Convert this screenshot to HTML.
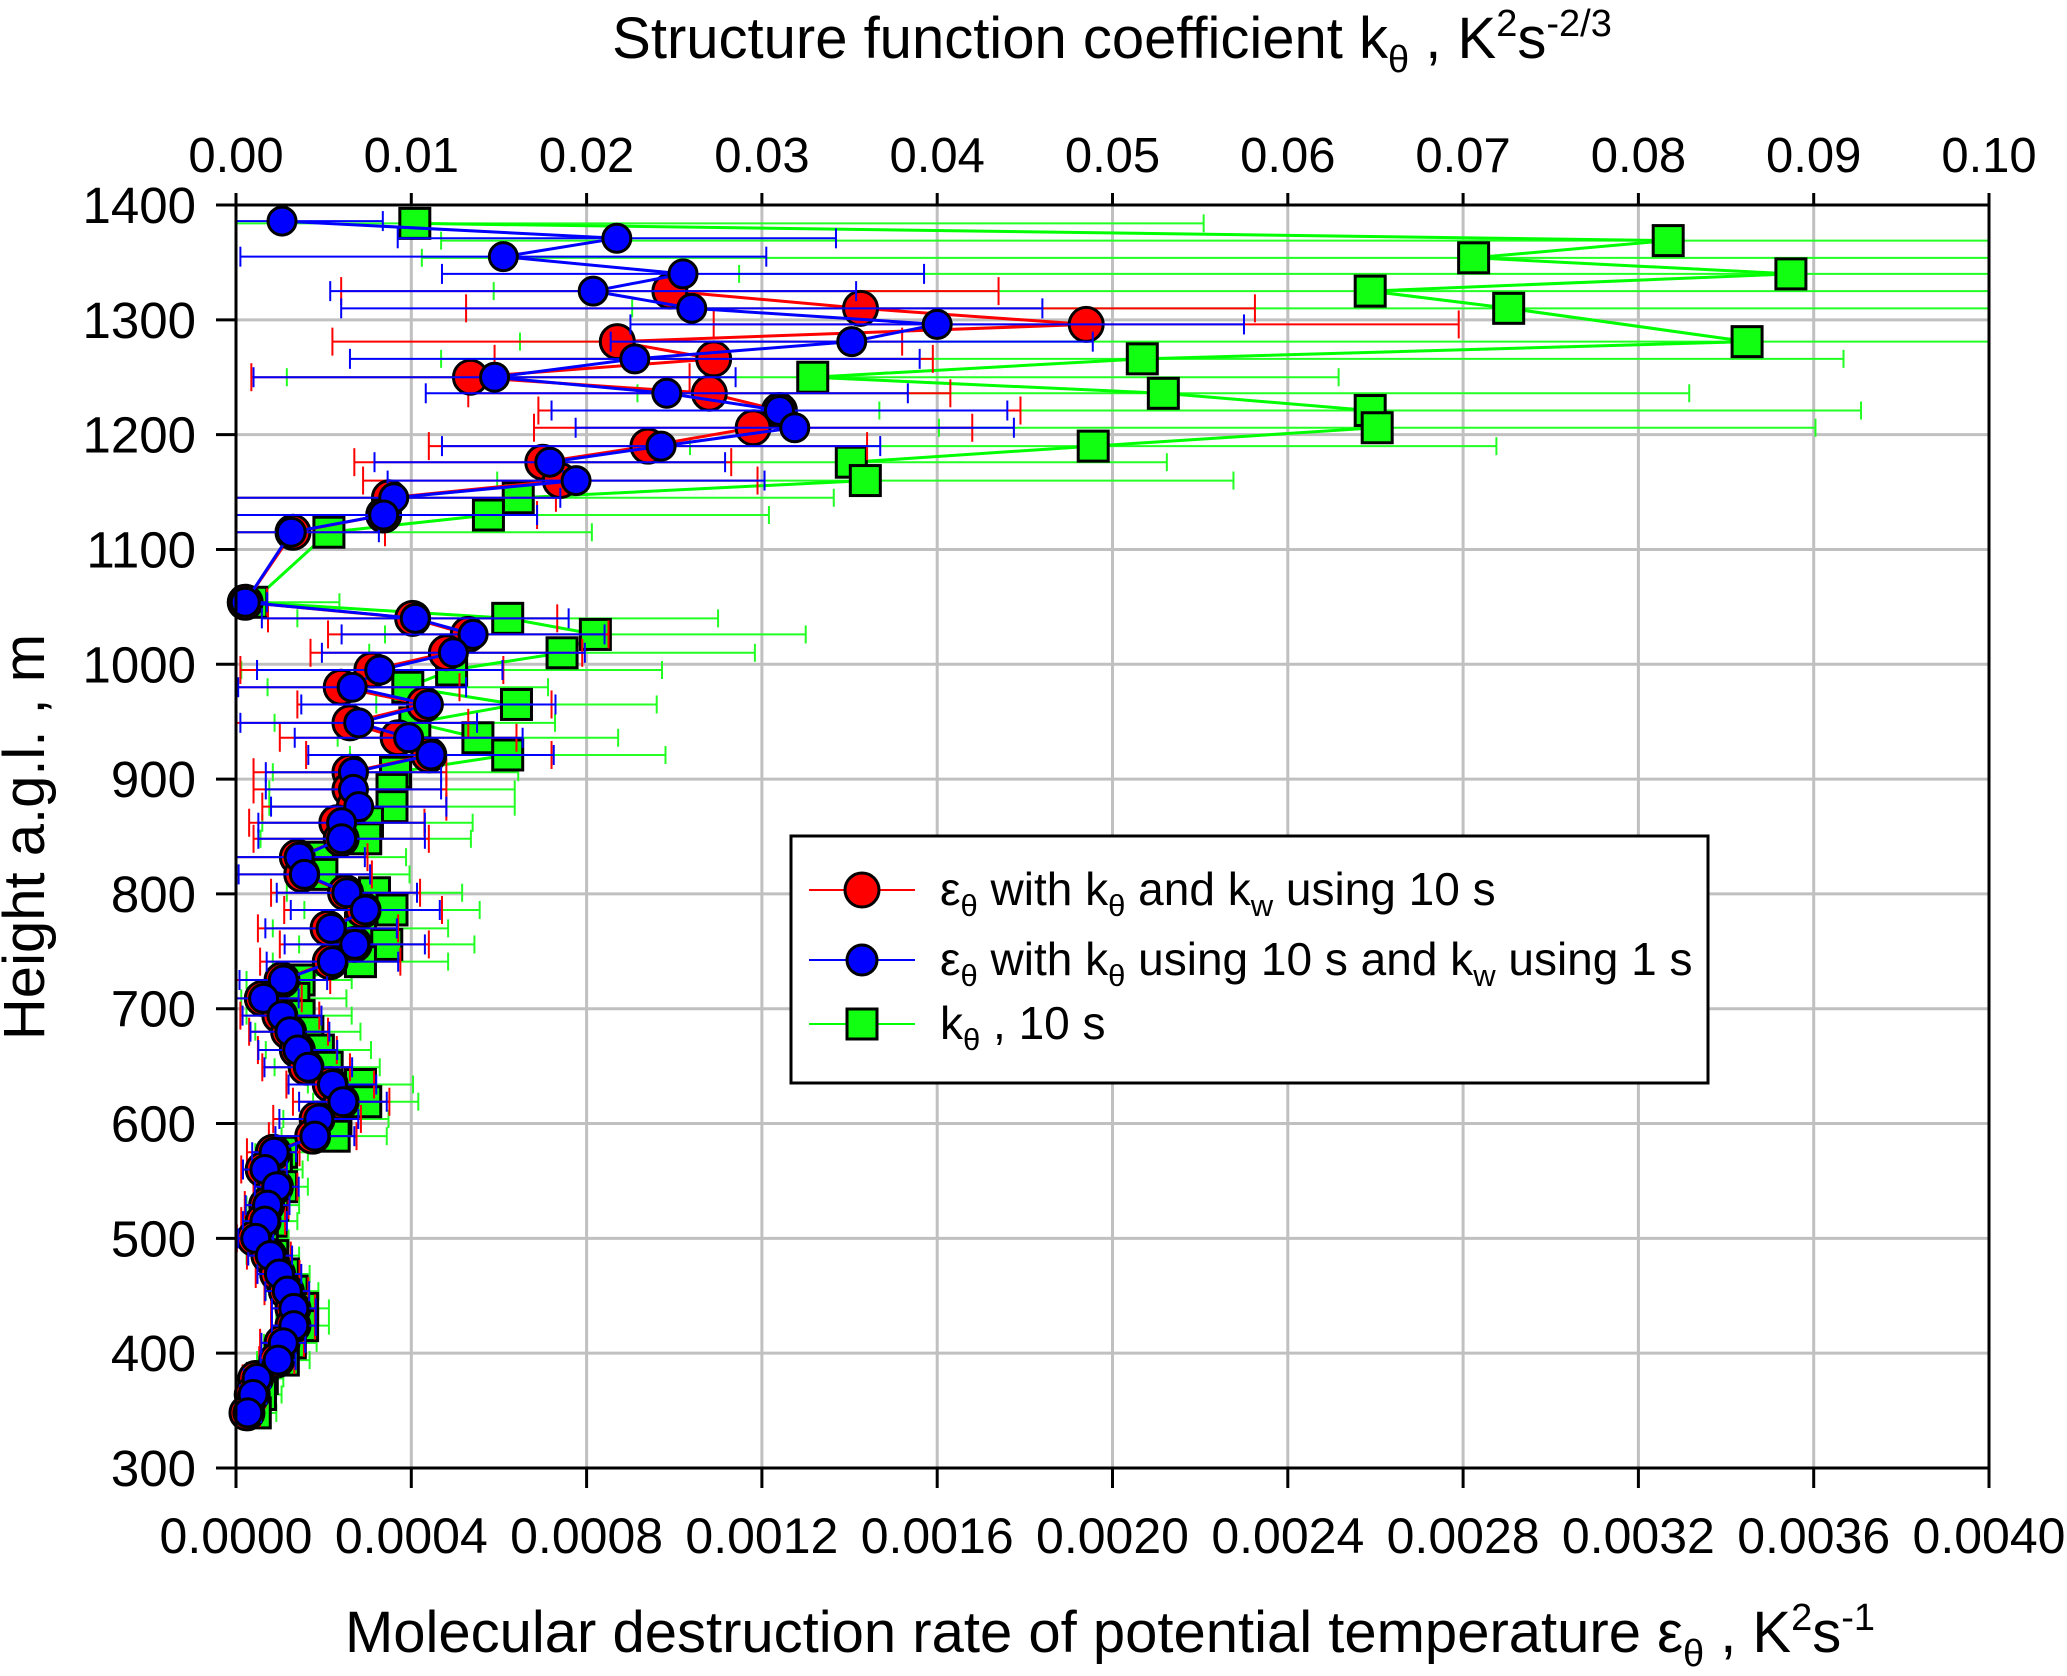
<!DOCTYPE html>
<html><head><meta charset="utf-8"><style>
html,body{margin:0;padding:0;background:#fff;}
svg{display:block;font-family:"Liberation Sans",sans-serif;}
</style></head><body>
<svg id="chart" width="2067" height="1676" viewBox="0 0 2067 1676" xmlns="http://www.w3.org/2000/svg">
<rect width="2067" height="1676" fill="#fff"/>
<g id="grid"></g>
<g id="series"></g>
<g id="axes"></g>
<text x="1112" y="58" font-size="58" text-anchor="middle">Structure function coefficient k<tspan font-size="38" dy="14">θ</tspan><tspan dy="-14"> , K</tspan><tspan font-size="38" dy="-22">2</tspan><tspan dy="22">s</tspan><tspan font-size="38" dy="-22">-2/3</tspan></text>
<text x="1110" y="1652" font-size="58" text-anchor="middle">Molecular destruction rate of potential temperature ε<tspan font-size="38" dy="14">θ</tspan><tspan dy="-14"> , K</tspan><tspan font-size="38" dy="-22">2</tspan><tspan dy="22">s</tspan><tspan font-size="38" dy="-22">-1</tspan></text>
<text transform="translate(44,837) rotate(-90)" font-size="58" text-anchor="middle">Height a.g.l. , m</text>
<g>
<rect x="791" y="836" width="917" height="247" fill="#fff" stroke="#000" stroke-width="3"/>
<g>
<line x1="809" y1="890" x2="915" y2="890" stroke="#f00" stroke-width="2"/>
<circle cx="862" cy="890" r="17" fill="#f00" stroke="#000" stroke-width="3"/>
<text x="940" y="905" font-size="46">ε<tspan font-size="31" dy="11">θ</tspan><tspan dy="-11"> with k</tspan><tspan font-size="31" dy="11">θ</tspan><tspan dy="-11"> and k</tspan><tspan font-size="31" dy="11">w</tspan><tspan dy="-11"> using 10 s</tspan></text>
</g>
<g>
<line x1="809" y1="960" x2="915" y2="960" stroke="#00f" stroke-width="2"/>
<circle cx="862" cy="960" r="15" fill="#00f" stroke="#000" stroke-width="3"/>
<text x="940" y="975" font-size="46">ε<tspan font-size="31" dy="11">θ</tspan><tspan dy="-11"> with k</tspan><tspan font-size="31" dy="11">θ</tspan><tspan dy="-11"> using 10 s and k</tspan><tspan font-size="31" dy="11">w</tspan><tspan dy="-11"> using 1 s</tspan></text>
</g>
<g>
<line x1="809" y1="1024" x2="915" y2="1024" stroke="#0f0" stroke-width="2"/>
<rect x="847" y="1009" width="30" height="30" fill="#1f1" stroke="#000" stroke-width="3"/>
<text x="940" y="1039" font-size="46">k<tspan font-size="31" dy="11">θ</tspan><tspan dy="-11"> , 10 s</tspan></text>
</g>
</g>
</svg>
<script>
// axis data
const yTicks=[300,400,500,600,700,800,900,1000,1100,1200,1300,1400];
const bottomTicks=["0.0000","0.0004","0.0008","0.0012","0.0016","0.0020","0.0024","0.0028","0.0032","0.0036","0.0040"];
const topTicks=["0.00","0.01","0.02","0.03","0.04","0.05","0.06","0.07","0.08","0.09","0.10"];
// blue series: eps (1e-4 K2/s)
const blueH=[1386,1371,1355,1340,1325,1310,1296,1281,1266,1250,1236,1221,1206,1190,1176,1160,1145,1130,1115,1054,1040,1026,1010,995,980,965,949,936,921,906,891,876,862,848,832,817,801,786,770,756,741,725,709,694,680,664,649,634,619,604,589,575,560,545,529,515,500,485,469,454,439,424,409,394,378,364,348];
const blueV=[1.05,8.69,6.1,10.2,8.15,10.4,16.0,14.05,9.1,5.9,9.83,12.4,12.75,9.7,7.16,7.76,3.6,3.37,1.26,0.21,4.09,5.41,4.96,3.28,2.65,4.39,2.8,3.94,4.45,2.68,2.68,2.8,2.41,2.41,1.44,1.56,2.53,2.95,2.17,2.71,2.2,1.08,0.63,1.05,1.23,1.41,1.65,2.2,2.44,1.89,1.8,0.87,0.66,0.93,0.72,0.66,0.45,0.78,0.99,1.17,1.32,1.32,1.08,0.96,0.48,0.39,0.27];
const blueE=[2.3,5,6,5.5,6,8,7,5.5,6.5,5.5,5.5,5.2,5,5,4,4.3,3.8,3.5,2,0.5,3.5,3,3,2.8,2.6,2.9,2.7,2.6,2.8,2,2,2,1.9,1.9,1.5,1.5,1.6,1.7,1.5,1.6,1.5,1,0.8,0.9,0.9,0.9,1,1,1,0.9,0.9,0.5,0.5,0.5,0.5,0.5,0.4,0.5,0.5,0.5,0.5,0.5,0.5,0.4,0.3,0.3,0.3];
// red series: eps (1e-4 K2/s)
const redH=[1325,1310,1296,1281,1266,1250,1236,1221,1206,1190,1176,1160,1145,1130,1115,1054,1040,1026,1010,995,980,965,949,936,921,906,891,876,862,848,832,817,801,786,770,756,741,725,709,694,680,664,649,634,619,604,589,575,560,545,529,515,500,485,469,454,439,424,409,394,378,364,348];
const redV=[9.9,14.25,19.4,8.7,10.9,5.35,10.8,12.4,11.8,9.4,7.0,7.4,3.5,3.37,1.3,0.21,4.03,5.3,4.8,3.1,2.4,4.3,2.6,3.7,4.4,2.6,2.6,2.7,2.3,2.4,1.4,1.5,2.5,2.9,2.1,2.7,2.15,1.05,0.6,1.0,1.2,1.4,1.6,2.15,2.4,1.85,1.75,0.85,0.62,0.9,0.7,0.62,0.42,0.75,0.95,1.15,1.3,1.3,1.05,0.93,0.45,0.37,0.25];
const redE=[7.5,9,8.5,6.5,5,5,5.5,5.5,5,5,4.3,4.5,3.8,3.5,2.1,0.5,3.3,3.2,3.1,3,2.7,2.9,2.7,2.7,2.8,2.2,2.2,2.1,2,2,1.6,1.6,1.7,1.8,1.6,1.7,1.6,1.1,0.9,0.9,0.9,0.9,1,1,1.1,1,1,0.6,0.5,0.5,0.5,0.5,0.4,0.5,0.5,0.5,0.5,0.5,0.5,0.4,0.3,0.3,0.3];
// green series: k (0.01 K2 s^-2/3)
const greenH=[1384,1369,1354,1340,1325,1310,1281,1266,1250,1236,1221,1206,1190,1176,1160,1145,1130,1115,1054,1040,1026,1010,995,980,965,949,936,921,906,891,876,862,848,832,817,801,786,770,756,741,725,709,694,680,664,649,634,619,604,589,575,560,545,529,515,500,485,469,454,439,424,409,394,378,364,348];
const greenV=[1.02,8.17,7.06,8.87,6.47,7.26,8.62,5.17,3.29,5.29,6.47,6.51,4.89,3.51,3.59,1.61,1.44,0.53,0.09,1.55,2.05,1.86,1.23,0.98,1.6,1.02,1.38,1.55,0.91,0.89,0.89,0.75,0.74,0.47,0.49,0.79,0.89,0.71,0.86,0.71,0.36,0.33,0.36,0.41,0.47,0.52,0.71,0.74,0.57,0.56,0.26,0.23,0.26,0.21,0.2,0.15,0.21,0.27,0.32,0.38,0.38,0.31,0.27,0.15,0.14,0.11];
const greenE=[4.5,7,6,6,5,5,7,4,3,3,2.8,2.5,2.3,1.8,2.1,1.8,1.6,1.5,0.5,1.2,1.2,1.1,1.2,0.8,0.8,0.8,0.8,0.9,0.7,0.7,0.7,0.6,0.6,0.5,0.5,0.5,0.5,0.5,0.5,0.5,0.3,0.3,0.3,0.3,0.3,0.3,0.3,0.3,0.3,0.3,0.15,0.15,0.15,0.15,0.15,0.15,0.15,0.15,0.15,0.15,0.15,0.15,0.15,0.12,0.12,0.12];

const NS="http://www.w3.org/2000/svg";
const L=236,R=1989,T=205,B=1468;
const yS=h=>B-(h-300)/1100*(B-T);
const xEps=v=>L+v/40*(R-L);
const xK=v=>L+v/10*(R-L);
const clampX=x=>Math.max(L,Math.min(R,x));
function el(tag,attrs,parent){const e=document.createElementNS(NS,tag);for(const k in attrs)e.setAttribute(k,attrs[k]);parent.appendChild(e);return e;}
const grid=document.getElementById('grid'),axes=document.getElementById('axes'),ser=document.getElementById('series');

bottomTicks.forEach((t,i)=>{const x=L+i/10*(R-L);
  if(i>0&&i<10){const g=el('line',{x1:x,y1:T,x2:x,y2:B,stroke:'#c0c0c0','stroke-width':3},grid);
  
  }
  const tk=el('line',{x1:x,y1:B,x2:x,y2:B+20,stroke:'#000','stroke-width':3},axes);
  
  
  const tb=el('text',{x:x,y:1553,'font-size':50,'text-anchor':'middle'},axes);tb.textContent=t;
  
  
  const tt=el('line',{x1:x,y1:T,x2:x,y2:T-12,stroke:'#000','stroke-width':3},axes);
  
  
  const tl=el('text',{x:x,y:172,'font-size':49,'text-anchor':'middle'},axes);tl.textContent=topTicks[i];
  
  
});
yTicks.forEach(h=>{const y=yS(h);
  if(h>300&&h<1400){const g=el('line',{x1:L,y1:y,x2:R,y2:y,stroke:'#c0c0c0','stroke-width':3},grid);
  
  }
  const tk=el('line',{x1:L-20,y1:y,x2:L,y2:y,stroke:'#000','stroke-width':3},axes);
  
  
  const t=el('text',{x:196,y:y+18,'font-size':51,'text-anchor':'end'},axes);t.textContent=h;
  
  
});
const frame=el('rect',{x:L,y:T,width:R-L,height:B-T,fill:'none',stroke:'#000','stroke-width':3},axes);



function drawSeries(name,H,V,E,xf,col,errCol,marker,capH){
  const g=el('g',{},ser);
  
  
  H.forEach((h,i)=>{const y=yS(h);const x1=xf(V[i]-E[i]),x2=xf(V[i]+E[i]);
    const cl=clampX(x1),cr=clampX(x2);
    const e=el('line',{x1:cl,y1:y,x2:cr,y2:y,stroke:errCol,'stroke-width':2},g);
    
    
    if(x1>=L){const c=el('line',{x1:x1,y1:y-capH,x2:x1,y2:y+capH,stroke:errCol,'stroke-width':2},g);
      
      }
    if(x2<=R){const c=el('line',{x1:x2,y1:y-capH,x2:x2,y2:y+capH,stroke:errCol,'stroke-width':2},g);
      
      }
  });
  const pts=H.map((h,i)=>xf(V[i]).toFixed(1)+','+yS(h).toFixed(1)).join(' ');
  const pl=el('polyline',{points:pts,fill:'none',stroke:col,'stroke-width':3},g);
  
  
  H.forEach((h,i)=>{const x=xf(V[i]),y=yS(h);let m;
    if(marker==='sq') m=el('rect',{x:x-15,y:y-15,width:30,height:30,fill:'#1f1',stroke:'#000','stroke-width':3},g);
    else m=el('circle',{cx:x,cy:y,r:marker,fill:col,stroke:'#000','stroke-width':3},g);
    
    
  });
}
drawSeries('green',greenH,greenV,greenE,xK,'#0f0','#2f2','sq',9);
drawSeries('red',redH,redV,redE,xEps,'#f00','#f00',17,14);
drawSeries('blue',blueH,blueV,blueE,xEps,'#00f','#00f',14,10);
</script>
</body></html>
